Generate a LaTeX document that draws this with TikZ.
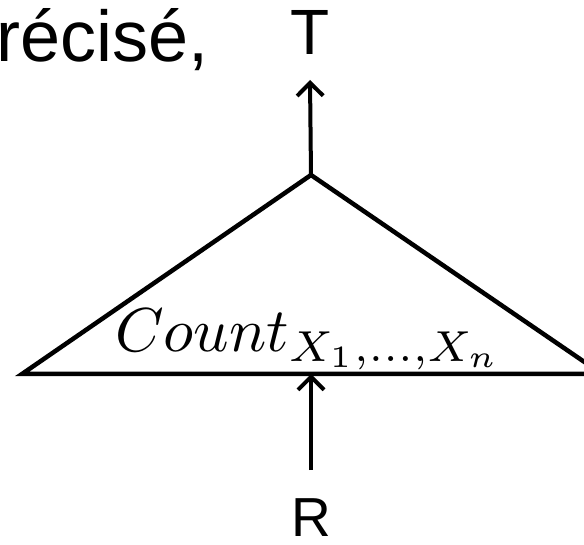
\documentclass[tikz,border=0pt]{standalone}
\usepackage{fontspec}
\setmainfont{Liberation Sans}
\usepackage{amsmath}
\usetikzlibrary{arrows.meta, positioning}

\tikzset{
  edge/.style={line width=4pt, -{Straight Barb[length=13pt, width=26pt, line width=4pt]}},
  opbox/.style={line width=4.5pt, line join=miter}
}

\begin{document}
\begin{tikzpicture}[x=1pt, y=-1pt]
  \useasboundingbox (0,0) rectangle (584,545);
  \clip (0,0) rectangle (584,545);

  % Cut-off text at the top left
  \node[anchor=base east, inner sep=0pt, font=\fontsize{72}{80}\selectfont] (word) at (209,62) {récisé,};

  % Operator triangle
  \coordinate (apex) at (311,175);
  \coordinate (left) at (22,374);
  \coordinate (right) at (602,374);
  \coordinate (base) at (311,374);
  \draw[opbox] (left) -- (apex) -- (right) -- cycle;
  \node[anchor=base west, inner sep=0pt] (count) at (115,352)
       {\scalebox{6.2}{$Count_{X_1,\ldots,X_n}$}};

  % Output and input relations
  \node[anchor=base, inner sep=0pt, font=\fontsize{64}{70}\selectfont] (out) at (310,55) {T};
  \node[anchor=base, inner sep=0pt, font=\fontsize{55}{60}\selectfont] (in) at (311,536) {R};

  % Data flow
  \draw[edge] (apex) -- ([yshift=-25pt]out.base);
  \draw[edge] ([yshift=66pt]in.base) -- (base);
\end{tikzpicture}
\end{document}
